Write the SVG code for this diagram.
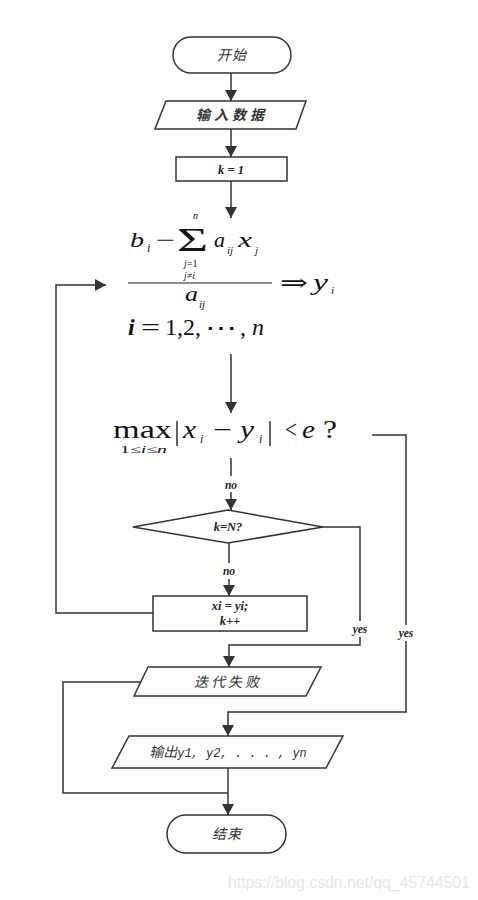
<svg xmlns="http://www.w3.org/2000/svg" width="478" height="900" viewBox="0 0 478 900">
<defs>
<style>
.ln{stroke:#333;stroke-width:1.5;fill:none}
.sh{fill:#fff;stroke:#333;stroke-width:1.5}
.lbl{font-family:"Liberation Serif",serif;font-style:italic;font-weight:bold;font-size:12.5px;fill:#222;text-anchor:middle}
.yn{font-family:"Liberation Serif",serif;font-style:italic;font-weight:bold;font-size:11.5px;fill:#222;text-anchor:middle}
.cn{font-family:"Noto Sans CJK SC",sans-serif;font-style:italic;font-size:14px;fill:#333;text-anchor:middle}
.m{font-family:"Liberation Serif","DejaVu Serif",serif;fill:#111}
.it{font-style:italic}
</style>
<marker id="ah" markerUnits="userSpaceOnUse" markerWidth="12" markerHeight="12" refX="11" refY="6" orient="auto">
<path d="M0,0 L11,6 L0,12 z" fill="#333"/>
</marker>
</defs>
<rect width="478" height="900" fill="#fff"/>

<g id="connectors">
<path class="ln" d="M231,73 V101" marker-end="url(#ah)"/>
<path class="ln" d="M231,129 V157" marker-end="url(#ah)"/>
<path class="ln" d="M231,181 V218" marker-end="url(#ah)"/>
<path class="ln" d="M231,354 V413" marker-end="url(#ah)"/>
<path class="ln" d="M231,458 V476"/>
<path class="ln" d="M231,492 V510" marker-end="url(#ah)"/>
<path class="ln" d="M229,543 V563"/>
<path class="ln" d="M229,579 V596" marker-end="url(#ah)"/>
<path class="ln" d="M153,613 H56 V285 H106" marker-end="url(#ah)"/>
<path class="ln" d="M323,527 H360 V621"/>
<path class="ln" d="M360,637 V645 H229 V667" marker-end="url(#ah)"/>
<path class="ln" d="M372,435 H406 V625"/>
<path class="ln" d="M406,641 V712 H228 V736" marker-end="url(#ah)"/>
<path class="ln" d="M141,682 H63 V793 H228"/>
<path class="ln" d="M228,768 V815" marker-end="url(#ah)"/>
<text class="yn" x="231" y="489">no</text>
<text class="yn" x="229" y="575">no</text>
<text class="yn" x="360" y="633">yes</text>
<text class="yn" x="406" y="637">yes</text>
</g>

<g id="start">
<rect class="sh" x="173" y="37" width="118" height="36" rx="18"/>
<text class="cn" x="232" y="60" font-size="15" letter-spacing="1">开始</text>
</g>

<g id="input">
<polygon class="sh" points="166,101 306,101 296,129 155,129"/>
<text class="cn" x="232" y="120" font-weight="bold" letter-spacing="4">输入数据</text>
</g>

<g id="init">
<rect class="sh" x="176" y="157" width="111" height="24"/>
<text class="lbl" x="231" y="174">k = 1</text>
</g>

<g id="formula">
<text class="m it" x="130" y="247" font-size="22" textLength="14" lengthAdjust="spacingAndGlyphs">b</text>
<text class="m it" x="147" y="252" font-size="12">i</text>
<text class="m" x="156" y="248" font-size="24" textLength="19" lengthAdjust="spacingAndGlyphs">−</text>
<text class="m" x="177" y="251" font-size="34" textLength="31" lengthAdjust="spacingAndGlyphs">Σ</text>
<text class="m it" x="193" y="219" font-size="10">n</text>
<text class="m it" x="214" y="247" font-size="22" textLength="11" lengthAdjust="spacingAndGlyphs">a</text>
<text class="m it" x="227" y="254" font-size="11">ij</text>
<text class="m it" x="238" y="247" font-size="22" textLength="14" lengthAdjust="spacingAndGlyphs">x</text>
<text class="m it" x="255" y="254" font-size="11">j</text>
<text class="m" x="184" y="267" font-size="10"><tspan class="it">j</tspan>=1</text>
<text class="m" x="184" y="279" font-size="10"><tspan class="it">j</tspan>≠<tspan class="it">i</tspan></text>
<path d="M128,283 H272" stroke="#222" stroke-width="1.2"/>
<text class="m" x="280" y="291" font-size="24" textLength="28" lengthAdjust="spacingAndGlyphs">⇒</text>
<text class="m it" x="313" y="290" font-size="24" textLength="15" lengthAdjust="spacingAndGlyphs">y</text>
<text class="m it" x="331" y="294" font-size="11">i</text>
<text class="m it" x="185" y="301" font-size="22" textLength="13" lengthAdjust="spacingAndGlyphs">a</text>
<text class="m it" x="199" y="308" font-size="11">ij</text>
<text class="m it" x="128" y="335" font-size="24" font-weight="bold">i</text>
<text class="m" x="141" y="335" font-size="24" textLength="19" lengthAdjust="spacingAndGlyphs">=</text>
<text class="m" x="165" y="335" font-size="24">1,2,</text>
<text class="m" x="205" y="335" font-size="22" textLength="32" lengthAdjust="spacingAndGlyphs">⋯</text>
<text class="m" x="240" y="335" font-size="24">,</text>
<text class="m it" x="252" y="335" font-size="24">n</text>
</g>

<g id="converge">
<text class="m" x="113" y="438" font-size="25" textLength="59" lengthAdjust="spacingAndGlyphs">max</text>
<text class="m" x="120" y="453" font-size="11" textLength="47" lengthAdjust="spacingAndGlyphs">1≤<tspan class="it">i</tspan>≤<tspan class="it">n</tspan></text>
<path d="M177,421 V446 M270,421 V446" stroke="#111" stroke-width="1.3"/>
<text class="m it" x="183" y="438" font-size="25" textLength="13" lengthAdjust="spacingAndGlyphs">x</text>
<text class="m it" x="200" y="443" font-size="12">i</text>
<text class="m" x="213" y="438" font-size="25" textLength="19" lengthAdjust="spacingAndGlyphs">−</text>
<text class="m it" x="240" y="438" font-size="25" textLength="14" lengthAdjust="spacingAndGlyphs">y</text>
<text class="m it" x="259" y="443" font-size="12">i</text>
<text class="m" x="285" y="438" font-size="25" textLength="12" lengthAdjust="spacingAndGlyphs">&lt;</text>
<text class="m it" x="302" y="438" font-size="25" textLength="13" lengthAdjust="spacingAndGlyphs">e</text>
<text class="m" x="323" y="438" font-size="25" textLength="14" lengthAdjust="spacingAndGlyphs">?</text>
</g>

<g id="check">
<polygon class="sh" points="133,527 228,510 323,527 228,543"/>
<text class="lbl" x="228" y="531">k=N?</text>
</g>

<g id="update">
<rect class="sh" x="153" y="596" width="154" height="35"/>
<text class="lbl" x="230" y="610">xi = yi;</text>
<text class="lbl" x="230" y="625">k++</text>
</g>

<g id="fail">
<polygon class="sh" points="148,667 321,667 306,696 134,696"/>
<text class="cn" x="228" y="687" letter-spacing="3">迭代失败</text>
</g>

<g id="output">
<polygon class="sh" points="129,736 343,736 326,768 112,768"/>
<text class="cn" x="228" y="757">输出<tspan font-family="Liberation Mono,monospace" font-size="12">y1, y2, . . . , yn</tspan></text>
</g>

<g id="end">
<rect class="sh" x="167" y="815" width="119" height="38" rx="19"/>
<text class="cn" x="227" y="839" font-size="15" letter-spacing="1">结束</text>
</g>

<text x="228" y="888" font-family="Liberation Sans,sans-serif" font-size="16" fill="#e6e6e6" textLength="242">https://blog.csdn.net/qq_45744501</text>
</svg>
